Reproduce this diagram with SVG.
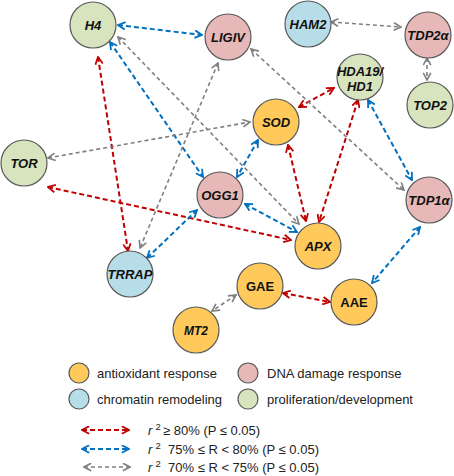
<svg xmlns="http://www.w3.org/2000/svg" width="454" height="476" viewBox="0 0 454 476">
<style>
.n{stroke:#595959;stroke-width:1.2}
.ao{fill:#FFC95C}.dna{fill:#E6B9B8}.chr{fill:#B7DEE8}.pro{fill:#D7E4BD}
.t{font-family:"Liberation Sans",Arial,sans-serif;font-size:13px;font-weight:bold;font-style:italic;fill:#111;text-anchor:middle}
.tn{font-style:normal}
.r{stroke:#C00000;stroke-width:2;stroke-dasharray:5 3;fill:none;marker-start:url(#mr);marker-end:url(#mr)}
.b{stroke:#0070C0;stroke-width:2;stroke-dasharray:5 3;fill:none;marker-start:url(#mb);marker-end:url(#mb)}
.g{stroke:#7F7F7F;stroke-width:1.6;stroke-dasharray:4 3;fill:none;marker-start:url(#mg);marker-end:url(#mg)}
.lg{font-family:"Liberation Sans",Arial,sans-serif;font-size:13px;fill:#222}
</style>
<defs>
<marker id="mr" viewBox="0 0 10 10" refX="9" refY="5" markerWidth="9" markerHeight="9" markerUnits="userSpaceOnUse" orient="auto-start-reverse"><path d="M1,0.8 L9,5 L1,9.2" fill="none" stroke="#C00000" stroke-width="2"/></marker>
<marker id="mb" viewBox="0 0 10 10" refX="9" refY="5" markerWidth="9" markerHeight="9" markerUnits="userSpaceOnUse" orient="auto-start-reverse"><path d="M1,0.8 L9,5 L1,9.2" fill="none" stroke="#0070C0" stroke-width="2"/></marker>
<marker id="mg" viewBox="0 0 10 10" refX="9" refY="5" markerWidth="9" markerHeight="9" markerUnits="userSpaceOnUse" orient="auto-start-reverse"><path d="M1,0.8 L9,5 L1,9.2" fill="none" stroke="#7F7F7F" stroke-width="1.8"/></marker>
</defs>
<g id="connectors">
<line class="r" x1="98" y1="57" x2="128" y2="251"/>
<line class="r" x1="48" y1="187" x2="291" y2="240"/>
<line class="r" x1="288" y1="145" x2="306" y2="221"/>
<line class="r" x1="358" y1="100" x2="319" y2="222"/>
<line class="r" x1="299" y1="107" x2="334" y2="88"/>
<line class="r" x1="283" y1="293" x2="330" y2="302"/>
<line class="b" x1="118" y1="25" x2="202" y2="35"/>
<line class="b" x1="110" y1="42" x2="203" y2="177"/>
<line class="b" x1="258" y1="140" x2="237" y2="177"/>
<line class="b" x1="245" y1="204" x2="297" y2="232"/>
<line class="b" x1="197" y1="210" x2="147" y2="258"/>
<line class="b" x1="368" y1="100" x2="412" y2="180"/>
<line class="b" x1="420" y1="227" x2="372" y2="283"/>
<line class="g" x1="331" y1="22" x2="401" y2="27"/>
<line class="g" x1="427" y1="58" x2="427" y2="80"/>
<line class="g" x1="236" y1="295" x2="212" y2="311"/>
<line class="g" x1="118" y1="37" x2="299" y2="224"/>
<line class="g" x1="251" y1="49" x2="404" y2="190"/>
<line class="g" x1="218" y1="63" x2="140" y2="248"/>
<line class="g" x1="48" y1="158" x2="250" y2="122"/>
</g>
<g id="H4"><circle class="n pro" cx="93" cy="25" r="23"/><text class="t" x="93" y="30">H4</text></g>
<g id="LIGIV"><circle class="n dna" cx="228" cy="37" r="23"/><text class="t" x="228" y="42">LIGIV</text></g>
<g id="HAM2"><circle class="n chr" cx="308" cy="24" r="23"/><text class="t" x="308" y="29">HAM2</text></g>
<g id="TDP2a"><circle class="n dna" cx="428" cy="35" r="23"/><text class="t" x="428" y="40">TDP2α</text></g>
<g id="TOP2"><circle class="n pro" cx="430" cy="105" r="23"/><text class="t" x="430" y="110">TOP2</text></g>
<g id="HDA19"><circle class="n pro" cx="360" cy="77" r="23"/><text class="t" x="360" y="76">HDA19/</text><text class="t" x="360" y="91">HD1</text></g>
<g id="SOD"><circle class="n ao" cx="276" cy="122" r="23"/><text class="t" x="276" y="127">SOD</text></g>
<g id="TOR"><circle class="n pro" cx="24" cy="163" r="23"/><text class="t" x="24" y="168">TOR</text></g>
<g id="OGG1"><circle class="n dna" cx="220" cy="195" r="23"/><text class="t" x="220" y="200">OGG1</text></g>
<g id="TDP1a"><circle class="n dna" cx="429" cy="200" r="23"/><text class="t" x="429" y="205">TDP1α</text></g>
<g id="APX"><circle class="n ao" cx="318" cy="246" r="23"/><text class="t" x="318" y="251">APX</text></g>
<g id="TRRAP"><circle class="n chr" cx="130" cy="274" r="23"/><text class="t" x="130" y="279">TRRAP</text></g>
<g id="GAE"><circle class="n ao" cx="260" cy="286" r="23"/><text class="t tn" x="260" y="291">GAE</text></g>
<g id="AAE"><circle class="n ao" cx="354" cy="302" r="23"/><text class="t tn" x="354" y="307">AAE</text></g>
<g id="MT2"><circle class="n ao" cx="196" cy="330" r="23"/><text class="t" x="196" y="335" style="font-size:12px">MT2</text></g>
<g id="legend">
<circle class="n ao" cx="79" cy="373" r="10"/><text class="lg" x="97" y="377.5">antioxidant response</text>
<circle class="n dna" cx="248" cy="373" r="10"/><text class="lg" x="267" y="377.5">DNA damage response</text>
<circle class="n chr" cx="79" cy="399" r="10"/><text class="lg" x="97" y="403.5">chromatin remodeling</text>
<circle class="n pro" cx="248" cy="399" r="10"/><text class="lg" x="267" y="403.5">proliferation/development</text>
<line class="r" x1="82" y1="430" x2="129" y2="430"/>
<line class="b" x1="82" y1="449" x2="129" y2="449"/>
<line class="g" x1="84" y1="467" x2="130" y2="467"/>
<text class="lg" x="148" y="434.5"><tspan font-style="italic">r</tspan><tspan x="155.5" dy="-5" font-size="9.5">2</tspan><tspan x="163" dy="5">≥ 80% (P ≤ 0.05)</tspan></text>
<text class="lg" x="148" y="453.5"><tspan font-style="italic">r</tspan><tspan x="155.5" dy="-5" font-size="9.5">2</tspan><tspan x="168" dy="5">75% ≤ R &lt; 80% (P ≤ 0.05)</tspan></text>
<text class="lg" x="148" y="471.5"><tspan font-style="italic">r</tspan><tspan x="155.5" dy="-5" font-size="9.5">2</tspan><tspan x="168" dy="5">70% ≤ R &lt; 75% (P ≤ 0.05)</tspan></text>
</g>
</svg>
